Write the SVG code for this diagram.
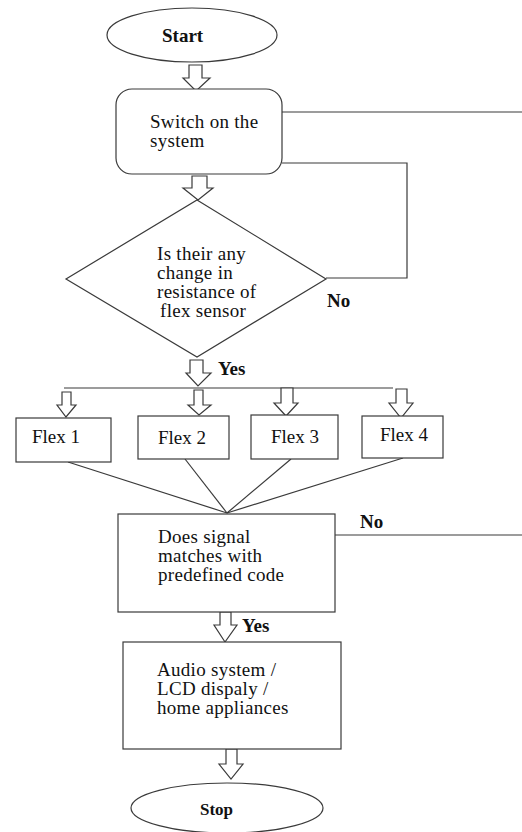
<svg xmlns="http://www.w3.org/2000/svg" width="522" height="832" viewBox="0 0 522 832">
<style>
.shape{fill:#fff;stroke:#3a3a3a;stroke-width:1.2}
.arrow{fill:#fff;stroke:#3a3a3a;stroke-width:1.2;stroke-linejoin:miter}
.line{fill:none;stroke:#3a3a3a;stroke-width:1.2}
.t{font-family:'Liberation Serif','Tinos','DejaVu Serif',serif;font-size:19px;letter-spacing:0.3px;fill:#111}
.f{font-family:'Liberation Serif','Tinos','DejaVu Serif',serif;font-size:19px;fill:#111}
.b{font-family:'Liberation Serif','Tinos','DejaVu Serif',serif;font-size:19px;font-weight:bold;fill:#111}
</style>
<rect width="522" height="832" fill="#fff"/>
<g id="connectors">
<polyline class="line" points="282,112 522,112"/>
<polyline class="line" points="282,163 407,163 407,278 326,278"/>
<polyline class="line" points="64,388 393,388"/>
<polyline class="line" points="68,462 227,513"/>
<polyline class="line" points="185,459 227,513"/>
<polyline class="line" points="291,459 227,513"/>
<polyline class="line" points="403,458 227,513"/>
<polyline class="line" points="335,535 522,535"/>
<polygon class="arrow" points="189,65 202,65 202,78 210,78 196,91 183,78 189,78"/>
<polygon class="arrow" points="192,176 207,176 207,188 213,188 198,200 183,188 192,188"/>
<polygon class="arrow" points="190,360 203,360 203,373 211,373 198,386 186,373 190,373"/>
<polygon class="arrow" points="62,392 71,392 71,405 76,405 66,417 57,405 62,405"/>
<polygon class="arrow" points="194,390 203,390 203,405 211,405 199,415 188,405 194,405"/>
<polygon class="arrow" points="281,388 293,388 293,403 298,403 286,416 274,403 281,403"/>
<polygon class="arrow" points="396,389 407,389 407,403 413,403 401,418 389,403 396,403"/>
<polygon class="arrow" points="220,612 231,612 231,625 237,625 225,642 214,625 220,625"/>
<polygon class="arrow" points="226,749 237,749 237,764 243,764 231,779 219,764 226,764"/>
<text class="b" x="327" y="307">No</text>
<text class="b" x="218" y="375">Yes</text>
<text class="b" x="360" y="528">No</text>
<text class="b" x="242" y="632">Yes</text>
</g>
<g id="start">
<ellipse class="shape" cx="192" cy="35" rx="85" ry="27"/>
<text class="b" x="162" y="42">Start</text>
</g>
<g id="switch">
<rect class="shape" x="116" y="89" width="166" height="85" rx="16" ry="16"/>
<text class="t" x="150" y="128">Switch on the</text>
<text class="t" x="150" y="147">system</text>
</g>
<g id="decision">
<polygon class="shape" points="197,200 326,279 197,357 66,279"/>
<text class="t" x="157" y="260">Is their any</text>
<text class="t" x="157" y="279">change in</text>
<text class="t" x="157" y="298">resistance of</text>
<text class="t" x="160" y="317">flex sensor</text>
</g>
<g id="flex1">
<rect class="shape" x="16" y="418" width="95" height="44"/>
<text class="f" x="32" y="443">Flex 1</text>
</g>
<g id="flex2">
<rect class="shape" x="138" y="416" width="91" height="43"/>
<text class="f" x="158" y="444">Flex 2</text>
</g>
<g id="flex3">
<rect class="shape" x="251" y="415" width="87" height="44"/>
<text class="f" x="271" y="443">Flex 3</text>
</g>
<g id="flex4">
<rect class="shape" x="362" y="416" width="81" height="42"/>
<text class="f" x="380" y="441">Flex 4</text>
</g>
<g id="match">
<rect class="shape" x="118" y="514" width="217" height="98"/>
<text class="t" x="158" y="543">Does signal</text>
<text class="t" x="158" y="562">matches with</text>
<text class="t" x="158" y="581">predefined code</text>
</g>
<g id="output">
<rect class="shape" x="123" y="642" width="218" height="107"/>
<text class="t" x="157" y="676">Audio system /</text>
<text class="t" x="157" y="695">LCD dispaly /</text>
<text class="t" x="157" y="714">home appliances</text>
</g>
<g id="stop">
<ellipse class="shape" cx="227" cy="808" rx="96" ry="25"/>
<text class="b" x="200" y="815" style="font-size:17px">Stop</text>
</g>
</svg>
